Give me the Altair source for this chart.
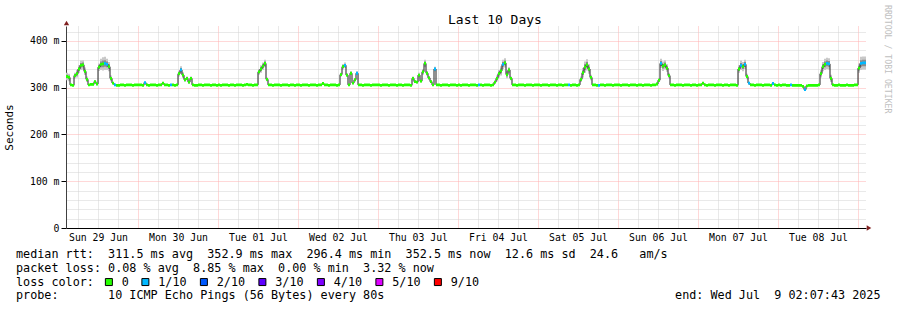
import altair as alt
import pandas as pd

# ---------------- data (median RTT in ms, one sample per 36 minutes) ----------------
median_jun29 = [324,322,306,305,326,330,340,348,349,335,318,306,307,307,313,308,344,350,351,352,
                350,345,320,310,306,305,305,306,306,305,306,306,306,305,306,306]
median_jun30 = [306,306,305,311,306,305,306,306,306,305,306,306,310,306,306,305,306,306,305,306,
                330,338,327,317,320,312,320,306,305,305,306,306,305,306,306,306,305,306,306,305]
median_jul01 = [306,305,306,306,306,305,306,306,305,306,306,306,305,306,307,306,306,305,306,306,
                334,340,346,352,318,306,306,305,306,306,306,305,306,306,306,305,306,306,305,306]
median_jul02 = [306,305,306,306,306,305,306,306,306,305,306,306,309,306,306,305,306,306,306,305,
                306,328,345,348,327,306,331,310,317,331,306,306,305,306,306,306,305,306,306,306]
median_jul03 = [306,305,306,306,306,305,306,306,306,305,306,306,305,306,306,306,305,320,313,312,
                327,314,334,352,331,321,313,306,340,306,306,305,306,306,306,305,306,306,306,305]
median_jul04 = [306,305,306,306,306,305,306,306,306,305,306,306,305,306,306,306,305,306,312,320,
                330,336,350,353,328,338,320,306,306,305,306,306,306,305,306,306,306,305,306,306]
median_jul05 = [306,305,306,306,306,305,306,306,306,305,306,306,305,306,306,306,305,306,306,305,
                306,318,332,344,349,340,322,306,306,305,305,306,306,305,306,306,306,305,306,306]
median_jul06 = [306,305,306,306,306,305,306,306,306,305,306,306,305,306,306,306,305,306,306,308,
                316,352,346,349,342,326,306,306,305,306,306,306,305,306,306,306,305,306,306,305]
median_jul07 = [306,306,310,306,305,306,306,306,305,306,306,306,305,306,306,305,306,306,306,305,
                340,348,345,350,324,310,306,306,305,306,306,306,305,306,306,306,305,309,306,305]
median_jul08 = [306,305,306,306,305,305,306,305,305,305,305,305,303,296,304,305,305,305,305,305,
                306,330,345,350,352,351,320,306,305,305,306,305,305,305,306,305,305,305,306,306]
median_jul09 = [342,352,353,353]

# spread of the individual pings around the median ("smoke"), ms
smoke_jun29 = [8,8,2,2,6,8,8,10,10,8,6,2,2,2,3,2,8,12,14,14,12,10,6,2,2,2,2,2,2,2,2,2,2,2,2,2]
smoke_jun30 = [2,2,2,2,2,2,2,2,2,2,2,2,2,2,2,2,2,2,2,2,6,8,6,4,4,4,4,2,2,2,2,2,2,2,2,2,2,2,2,2]
smoke_jul01 = [2,2,2,2,2,2,2,2,2,2,2,2,2,2,2,2,2,2,2,2,6,8,8,8,4,2,2,2,2,2,2,2,2,2,2,2,2,2,2,2]
smoke_jul02 = [2,2,2,2,2,2,2,2,2,2,2,2,2,2,2,2,2,2,2,2,2,4,6,6,4,2,4,2,3,4,2,2,2,2,2,2,2,2,2,2]
smoke_jul03 = [2,2,2,2,2,2,2,2,2,2,2,2,2,2,2,2,2,4,3,3,5,3,6,8,5,4,3,2,5,2,2,2,2,2,2,2,2,2,2,2]
smoke_jul04 = [2,2,2,2,2,2,2,2,2,2,2,2,2,2,2,2,2,2,3,6,8,10,10,10,8,6,4,2,2,2,2,2,2,2,2,2,2,2,2,2]
smoke_jul05 = [2,2,2,2,2,2,2,2,2,2,2,2,2,2,2,2,2,2,2,2,2,6,10,12,12,10,6,2,2,2,2,2,2,2,2,2,2,2,2,2]
smoke_jul06 = [2,2,2,2,2,2,2,2,2,2,2,2,2,2,2,2,2,2,2,3,4,10,10,10,8,6,2,2,2,2,2,2,2,2,2,2,2,2,2,2]
smoke_jul07 = [2,2,2,2,2,2,2,2,2,2,2,2,2,2,2,2,2,2,2,2,8,10,10,10,6,3,2,2,2,2,2,2,2,2,2,2,2,2,2,2]
smoke_jul08 = [2,2,2,2,2,2,2,2,2,2,2,2,2,2,2,2,2,2,2,2,2,8,10,12,12,12,8,2,2,2,2,2,2,2,2,2,2,2,2,2]
smoke_jul09 = [10,14,14,14]

# samples whose packet loss fell in the 1/10 class (all others: 0)
loss_1_of_10 = [19, 20, 24, 39, 52, 57, 139, 145, 184, 206, 218, 251, 266, 297, 337, 339,
                341, 353, 362, 369, 380, 381, 397, 398, 399]

loss_levels = ["0", "1/10", "2/10", "3/10", "4/10", "5/10", "9/10"]
loss_colors = ["#26ff00", "#00b8ff", "#0059ff", "#5e00ff", "#7e00ff", "#dd00ff", "#ff0000"]

footer_rtt = "median rtt:  311.5 ms avg  352.9 ms max  296.4 ms min  352.5 ms now  12.6 ms sd  24.6   am/s"
footer_loss = "packet loss: 0.08 % avg  8.85 % max  0.00 % min  3.32 % now"
footer_probe = "probe:       10 ICMP Echo Pings (56 Bytes) every 80s"
footer_end = "end: Wed Jul  9 02:07:43 2025"
chart_title = "Last 10 Days"
watermark = "RRDTOOL / TOBI OETIKER"

# ---------------- table ----------------
median_ms = (median_jun29 + median_jun30 + median_jul01 + median_jul02 + median_jul03 +
             median_jul04 + median_jul05 + median_jul06 + median_jul07 + median_jul08 + median_jul09)
smoke_ms = (smoke_jun29 + smoke_jun30 + smoke_jul01 + smoke_jul02 + smoke_jul03 +
            smoke_jul04 + smoke_jul05 + smoke_jul06 + smoke_jul07 + smoke_jul08 + smoke_jul09)

START = pd.Timestamp("2025-06-29 02:24:00", tz="UTC")
END = START + pd.Timedelta(hours=240)
STEP = pd.Timedelta(minutes=36)


def ms(ts):
    return int(ts.timestamp() * 1000)


n = len(median_ms)
df = pd.DataFrame({
    "t0": [ms(START + STEP * i) for i in range(n)],
    "t1": [ms(START + STEP * (i + 1)) for i in range(n)],
    "median": median_ms,
    "smoke": smoke_ms,
    "loss": ["1/10" if i in loss_1_of_10 else "0" for i in range(n)],
})

MONO = "DejaVu Sans Mono"
NB = "\u00a0"
x_ticks = [ms(t) for t in pd.date_range("2025-06-29 06:00", "2025-07-09 00:00", freq="6h", tz="UTC")]
y_ticks = list(range(0, 432, 20))

x_scale = alt.Scale(type="utc", domain=[ms(START), ms(END)])
y_scale = alt.Scale(domain=[0, 432], nice=False, zero=True)

RED = "#ffb0b0"
GRAY = "#d2d2d2"

x_axis = alt.Axis(
    values=x_ticks, title=None, grid=True,
    gridColor={"condition": {"test": "utchours(datum.value) == 0", "value": RED}, "value": GRAY},
    gridDash=[1, 1], ticks=False, domainColor="#000000", domainWidth=1,
    labelExpr="utchours(datum.value) == 12 ? utcFormat(datum.value, '%a %d %b') : ''",
    labelFont=MONO, labelFontSize=9.8, labelColor="#000000", labelPadding=12,
    labelBaseline="alphabetic", labelAngle=0, labelOverlap=False, labelFlush=False, labelBound=False,
)
y_axis = alt.Axis(
    values=y_ticks, title="Seconds", grid=True,
    gridColor={"condition": {"test": "datum.value % 100 == 0", "value": RED}, "value": GRAY},
    gridDash=[1, 1],
    tickColor={"condition": {"test": "datum.value % 100 == 0", "value": "#000000"}, "value": "transparent"},
    tickSize=5, domainColor="#404040",
    labelExpr="datum.value % 100 == 0 ? (datum.value == 0 ? '0' : datum.value + ' m') : ''",
    labelFont=MONO, labelFontSize=9.8, labelColor="#000000", labelPadding=2, labelOverlap=False,
    titleFont=MONO, titleFontSize=11, titleFontWeight="normal", titleColor="#000000",
    titleX=-57, titleY=101, titleAngle=270, titleBaseline="middle",
)

X0 = alt.X("t0:T", scale=x_scale, axis=x_axis)


def Y(field):
    return alt.Y(field, type="quantitative", scale=y_scale, axis=y_axis)


base = alt.Chart(df)

smoke_outer = base.transform_calculate(
    lo="datum.median - datum.smoke", hi="datum.median + datum.smoke"
).mark_rect(color="#c8c8c8").encode(x=X0, x2="t1:T", y=Y("lo"), y2="hi:Q")

smoke_inner = base.transform_calculate(
    lo="datum.median - datum.smoke / 2", hi="datum.median + datum.smoke / 2"
).mark_rect(color="#8c8c8c").encode(x=X0, x2="t1:T", y=Y("lo"), y2="hi:Q")

median_line = base.mark_line(color="#202020", strokeWidth=1, interpolate="step-after").encode(
    x=X0, y=Y("median"))

median_band = base.transform_calculate(
    lo="datum.median - 3", hi="datum.median + 3"
).mark_rect().encode(
    x=X0, x2="t1:T", y=Y("lo"), y2="hi:Q",
    color=alt.Color(
        "loss:N",
        scale=alt.Scale(domain=loss_levels, range=loss_colors),
        legend=alt.Legend(
            title=None, orient="none", legendX=37, legendY=250, direction="horizontal",
            symbolType="square", symbolSize=49, symbolStrokeColor="#000000", symbolStrokeWidth=1,
            symbolOpacity=1, labelFont=MONO, labelFontSize=11.78, labelColor="#000000",
            labelOffset=7, columnPadding=10.5, padding=0, values=loss_levels,
        ),
    ),
)

one = pd.DataFrame({"k": [0]})


def text_layer(txt, x, y, size, color="#000000", align="left", angle=0, baseline="alphabetic"):
    return alt.Chart(one).mark_text(
        text=txt.replace(" ", NB), font=MONO, fontSize=size, color=color, align=align,
        baseline=baseline, angle=angle,
    ).encode(x=alt.value(x), y=alt.value(y))


texts = [
    text_layer(chart_title, 382, -2, 13),
    text_layer(footer_rtt, -50, 232.3, 11.78),
    text_layer(footer_loss, -50, 245.7, 11.78),
    text_layer("loss color:", -50, 259.5, 11.78),
    text_layer(footer_probe, -50, 273.3, 11.78),
    text_layer(footer_end, 814.5, 273.3, 11.78, align="right"),
    text_layer(watermark, 821, -21, 8.2, color="#c0c0c0", angle=90, baseline="middle"),
]

arrow_up = alt.Chart(one).mark_point(shape="triangle-up", filled=True, color="#802020", size=28, opacity=1).encode(
    x=alt.value(0.5), y=alt.value(-3))
arrow_right = alt.Chart(one).mark_point(shape="triangle-right", filled=True, color="#802020", size=28, opacity=1).encode(
    x=alt.value(803), y=alt.value(202))

chart = alt.layer(
    smoke_outer, smoke_inner, median_line, median_band, *texts, arrow_up, arrow_right
).properties(
    width=800, height=202,
    autosize=alt.AutoSizeParams(type="none"),
    padding={"left": 66, "top": 26, "right": 31, "bottom": 82},
    background="#ffffff",
).configure_view(stroke=None)

chart.save("out.html", embed_options={"renderer": "svg", "actions": False})
